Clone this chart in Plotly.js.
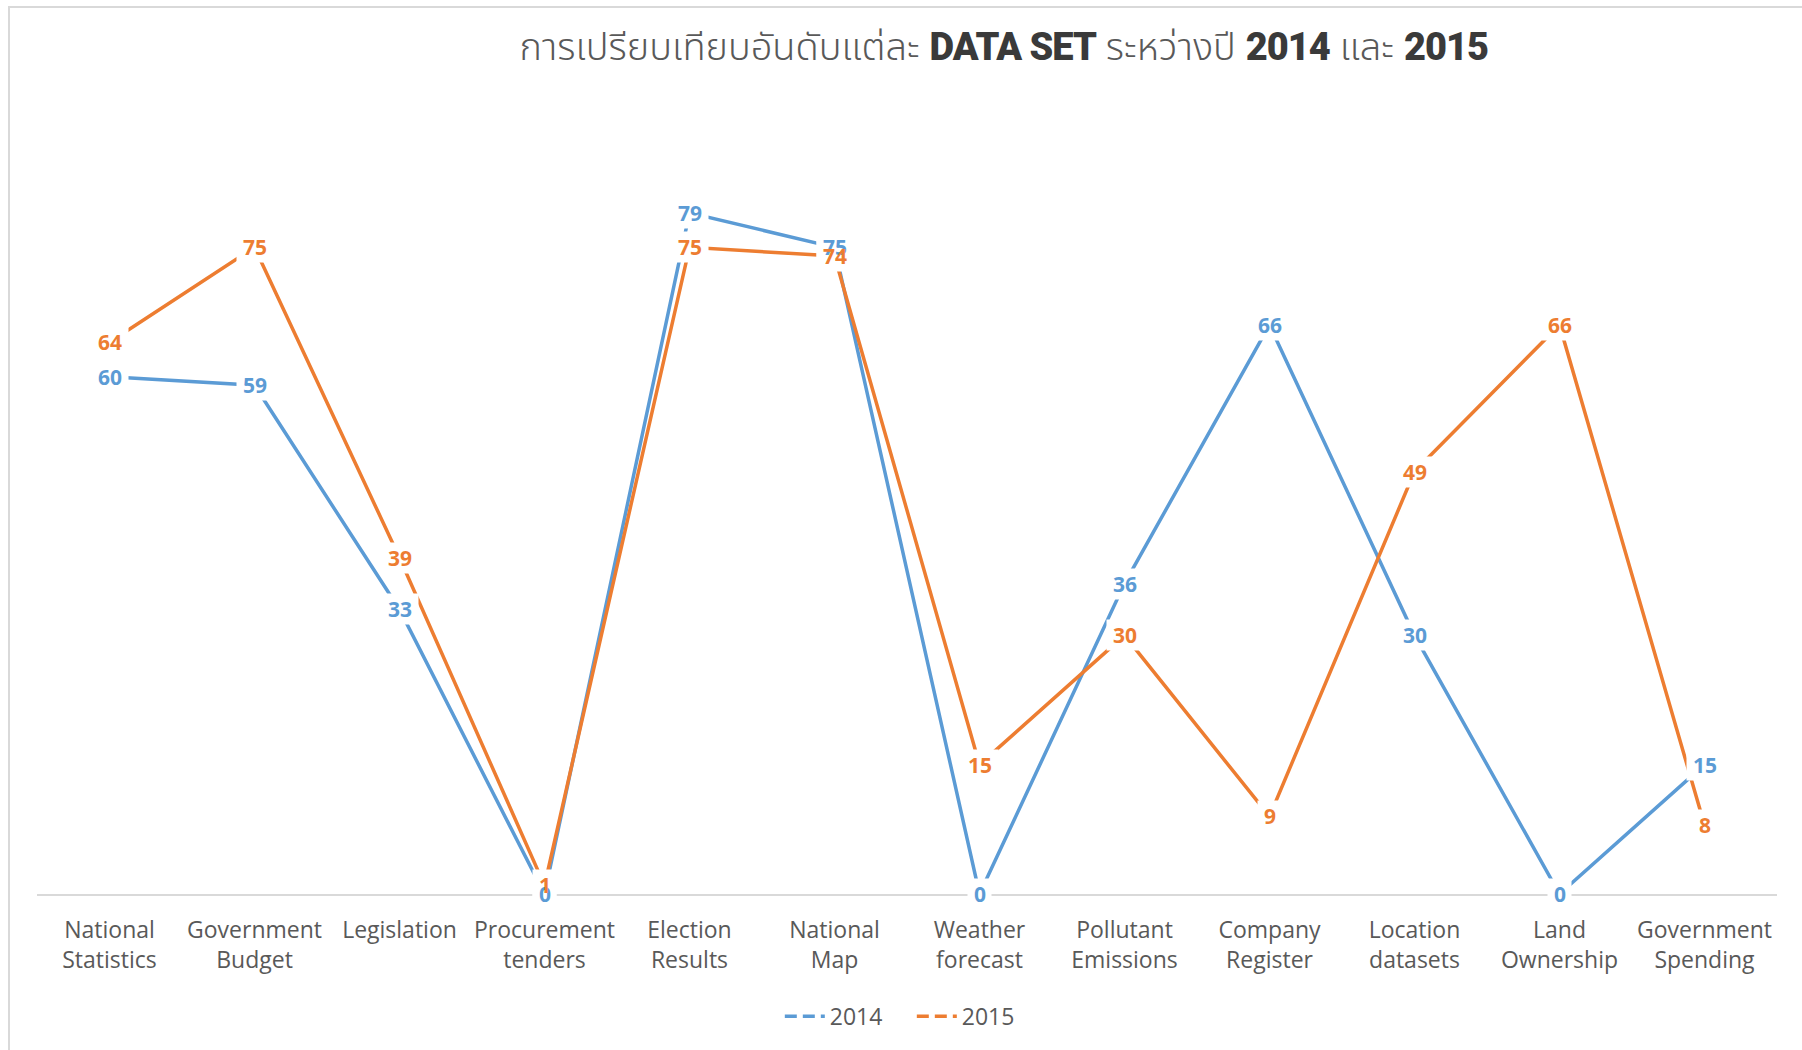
<!DOCTYPE html>
<html>
<head>
<meta charset="utf-8">
<script src="https://cdn.plot.ly/plotly-3.0.1.min.js"></script>
<style>
  html, body { margin: 0; padding: 0; background: #ffffff; }
  #wrap { position: relative; width: 1802px; height: 1050px; overflow: hidden; }
  #frame { position: absolute; left: 8px; top: 6px; width: 1830px; height: 1100px; border: 2px solid #d9d9d9; box-sizing: border-box; pointer-events: none; }
  #chart { position: absolute; left: 0; top: 0; width: 1802px; height: 1050px; }
</style>
</head>
<body>
<div id="wrap">
  <div id="chart"></div>
  <div id="frame"></div>
</div>
<script>
const categories = [
  "National<br>Statistics", "Government<br>Budget", "Legislation", "Procurement<br>tenders",
  "Election<br>Results", "National<br>Map", "Weather<br>forecast", "Pollutant<br>Emissions",
  "Company<br>Register", "Location<br>datasets", "Land<br>Ownership", "Government<br>Spending"
];
const values2014 = [60, 59, 33, 0, 79, 75, 0, 36, 66, 30, 0, 15];
const values2015 = [64, 75, 39, 1, 75, 74, 15, 30, 9, 49, 66, 8];
const seriesNames = ["2014", "2015"];

const BLUE = "#5b9bd5";
const ORANGE = "#ed7d31";
const TXT = "#595959";
const FONT = "'Open Sans', 'Noto Sans', sans-serif";

const seriesList = [
  { name: seriesNames[0], y: values2014, color: BLUE },
  { name: seriesNames[1], y: values2015, color: ORANGE }
];

const traces = [];
seriesList.forEach(s => {
  traces.push({
    type: "scatter", mode: "lines", x: categories, y: s.y, name: s.name,
    line: { color: s.color, width: 3.5 }, showlegend: false, hoverinfo: "x+y"
  });
});
seriesList.forEach(s => {
  traces.push({
    type: "scatter", mode: "lines", x: categories, y: s.y.map(() => null), name: s.name,
    line: { color: s.color, width: 3.5, dash: "12px,6px" }, showlegend: true, hoverinfo: "skip"
  });
});

const annotations = [];
// white backing boxes first (they cut the lines around each label)
seriesList.forEach(s => {
  s.y.forEach((v, i) => {
    annotations.push({
      x: categories[i], y: v, xref: "x", yref: "y", text: " ",
      width: String(v).length * 13 + 4, height: 24,
      showarrow: false, bgcolor: "#ffffff", borderpad: 3,
      font: { family: FONT, size: 21, color: "rgba(0,0,0,0)" },
      xanchor: "center", yanchor: "middle"
    });
  });
});
// then the label texts on top
seriesList.forEach(s => {
  s.y.forEach((v, i) => {
    annotations.push({
      x: categories[i], y: v, xref: "x", yref: "y", text: "<b>" + v + "</b>",
      showarrow: false,
      font: { family: FONT, size: 21, color: s.color },
      xanchor: "center", yanchor: "middle"
    });
  });
});

const NARROW = "font-family:Roboto,sans-serif;font-weight:900;letter-spacing:-1px;color:#3a3a3a";
const THIN = "font-family:Noto Sans Thai,Noto Sans,sans-serif;font-weight:300";
const titleText =
  "<span style='" + THIN + "'>การเปรียบเทียบอันดับแต่ละ </span>" +
  "<span style='" + NARROW + "'>DATA SET</span>" +
  "<span style='" + THIN + "'> ระหว่างปี </span>" +
  "<span style='" + NARROW + "'>2014</span>" +
  "<span style='" + THIN + "'> และ </span>" +
  "<span style='" + NARROW + "'>2015</span>";

const layout = {
  width: 1802, height: 1050,
  paper_bgcolor: "rgba(0,0,0,0)", plot_bgcolor: "rgba(0,0,0,0)",
  margin: { l: 37, r: 25, t: 118, b: 156, pad: 0 },
  title: {
    text: titleText, x: 0.557, xanchor: "center", y: 0.956, yanchor: "middle", yref: "container",
    font: { family: FONT, size: 38, color: "#595959" }
  },
  xaxis: {
    type: "category", range: [-0.5, 11.5], showgrid: false, zeroline: false,
    showline: true, linecolor: "#d9d9d9", linewidth: 2,
    ticks: "", ticklabelstandoff: 14, automargin: false,
    tickfont: { family: FONT, size: 23, color: TXT }
  },
  yaxis: {
    range: [0, 90], showgrid: false, zeroline: false, showticklabels: false, ticks: "", showline: false, fixedrange: true, automargin: false
  },
  legend: {
    orientation: "h", x: 0.506, xanchor: "center", xref: "container",
    y: 0.032, yanchor: "middle", yref: "container",
    font: { family: FONT, size: 23, color: TXT }, itemwidth: 40,
    entrywidth: 77, entrywidthmode: "pixels", tracegroupgap: 0
  },
  annotations: annotations,
  showlegend: true
};

Plotly.newPlot("chart", traces, layout, { displayModeBar: false, responsive: false });
</script>
</body>
</html>
